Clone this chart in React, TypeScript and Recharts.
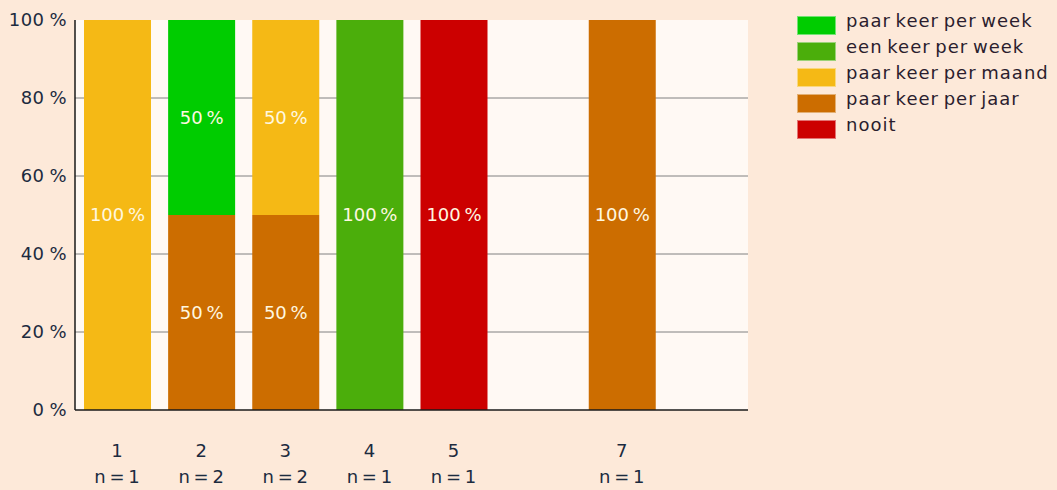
import { BarChart, Bar, XAxis, YAxis, CartesianGrid, LabelList } from "recharts";

const categories = ["1", "2", "3", "4", "5", "6", "7", "8"];
const respondents = [1, 2, 2, 1, 1, null, 1, null];

// percentages per category (null = no segment)
const paarKeerPerWeek = [null, 50, null, null, null, null, null, null];
const eenKeerPerWeek = [null, null, null, 100, null, null, null, null];
const paarKeerPerMaand = [100, null, 50, null, null, null, null, null];
const paarKeerPerJaar = [null, 50, 50, null, null, null, 100, null];
const nooit = [null, null, null, null, 100, null, null, null];

const yTicks = [0, 20, 40, 60, 80, 100];

// bottom of stack first
const series = [
  { key: "nooit", name: "nooit", values: nooit, color: "#CC0000" },
  { key: "jaar", name: "paar keer per jaar", values: paarKeerPerJaar, color: "#CC6D00" },
  { key: "maand", name: "paar keer per maand", values: paarKeerPerMaand, color: "#F5B915" },
  { key: "eenWeek", name: "een keer per week", values: eenKeerPerWeek, color: "#4BAE0B" },
  { key: "paarWeek", name: "paar keer per week", values: paarKeerPerWeek, color: "#00CC00" },
];

const data = categories.map((cat, i) => {
  const row: Record<string, any> = { cat, n: respondents[i] };
  series.forEach(s => { row[s.key] = s.values[i]; });
  return row;
});

const FONT = "'DejaVu Sans', Verdana, sans-serif";

function CategoryTick({ x, y, payload, index }: any) {
  const n = respondents[index];
  if (n == null) return null;
  return (
    <g>
      <text x={x} y={y} dy={39} textAnchor="middle" fontSize={18} fill="#1c2b3f" fontFamily={FONT}>
        {payload.value}
      </text>
      <text x={x} y={y} dy={65} textAnchor="middle" fontSize={18} fill="#1c2b3f" fontFamily={FONT} wordSpacing={-2}>
        {`n = ${n}`}
      </text>
    </g>
  );
}

export default function App() {
  return (
    <div style={{ position: "absolute", left: 0, top: 0, width: 1057, height: 490, background: "#FDE9D9", fontFamily: FONT }}>
      <BarChart
        width={1057}
        height={490}
        data={data}
        margin={{ top: 20, right: 309, left: 0, bottom: 0 }}
        barSize={67}
      >
        <CartesianGrid
          vertical={false}
          horizontalValues={[20, 40, 60, 80]}
          stroke="#808080"
          fill="#FFF9F4"
          fillOpacity={1}
        />
        <XAxis
          dataKey="cat"
          height={80}
          tickLine={false}
          axisLine={{ stroke: "#1a1a1a", strokeWidth: 1.5 }}
          tick={<CategoryTick />}
          interval={0}
        />
        <YAxis
          width={75}
          domain={[0, 100]}
          ticks={yTicks}
          tickLine={false}
          axisLine={{ stroke: "#1a1a1a", strokeWidth: 1.5 }}
          tickFormatter={(v: number) => `${v} %`}
          tick={{ fontSize: 18, fill: "#1c2b3f", fontFamily: FONT, wordSpacing: -1, letterSpacing: 0.4 }}
        />
        {series.map(s => (
          <Bar key={s.key} dataKey={s.key} name={s.name} stackId="a" fill={s.color} isAnimationActive={false}>
            <LabelList
              dataKey={s.key}
              position="center"
              fill="#FFF8E0"
              fontSize={18}
              fontFamily={FONT}
              wordSpacing={-2}
              formatter={(v: any) => (v ? `${v} %` : "")}
            />
          </Bar>
        ))}
      </BarChart>
      <div style={{ position: "absolute", left: 797, top: 12 }}>
        {[...series].reverse().map(s => (
          <div key={s.key} style={{ display: "flex", alignItems: "center", height: 26 }}>
            <div style={{ width: 37, height: 17, background: s.color, border: "1px solid rgba(255,255,255,0.45)", marginRight: 10 }} />
            <span style={{ fontSize: 18, color: "#2b1d2e", lineHeight: "18px", marginTop: -8, wordSpacing: -2, letterSpacing: 1, whiteSpace: "nowrap" }}>{s.name}</span>
          </div>
        ))}
      </div>
    </div>
  );
}
